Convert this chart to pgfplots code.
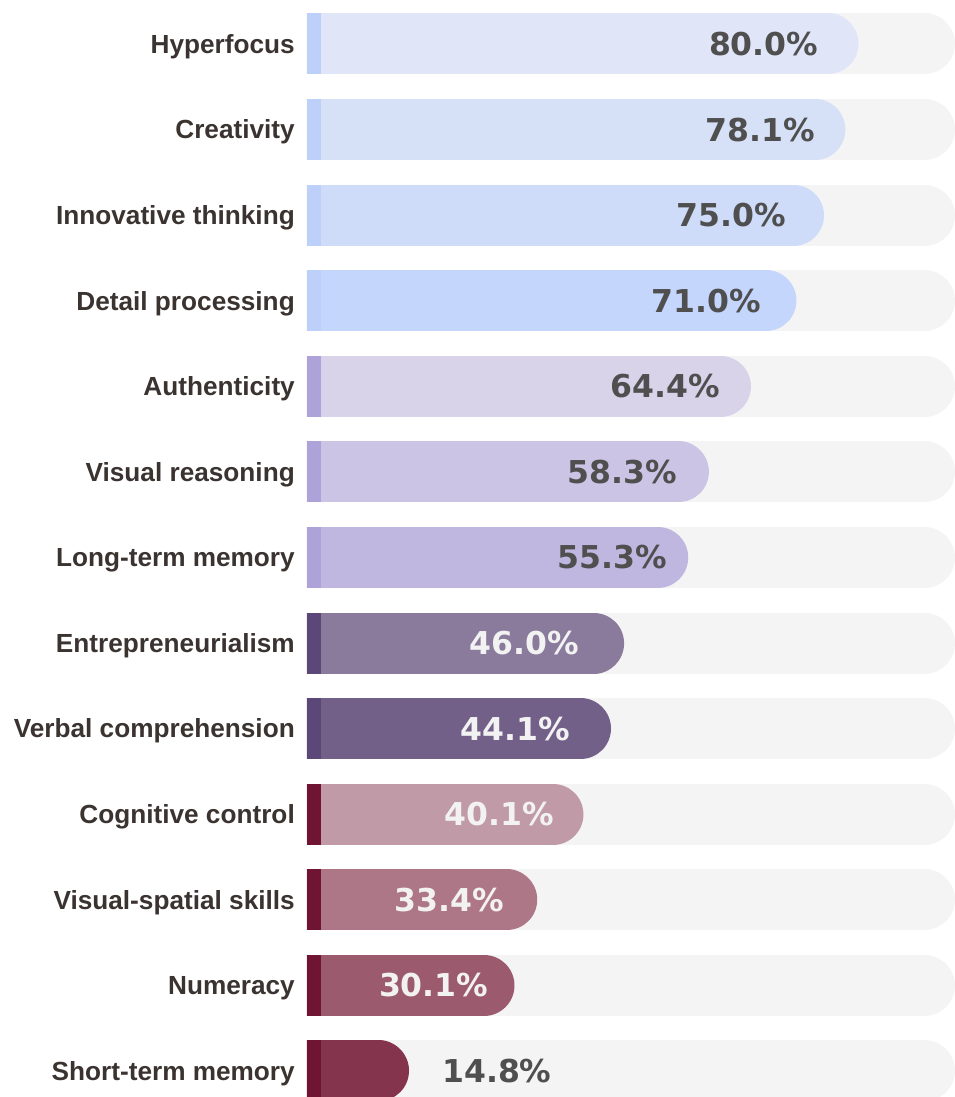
\documentclass[border=0pt]{standalone}
\usepackage{fontspec}
\setmainfont{Liberation Sans}
\newfontfamily\pctfont{DejaVu Sans}
\usepackage{pgfplots}
\pgfplotsset{compat=1.18}

\definecolor{trackgray}{HTML}{F4F4F4}
\definecolor{labelcol}{HTML}{3A3330}
\definecolor{pctdark}{HTML}{4F4F4F}
\definecolor{pctlight}{HTML}{F2F2F2}
\definecolor{f12}{HTML}{E0E6F8}
\definecolor{f11}{HTML}{D6E1F8}
\definecolor{f10}{HTML}{CEDCFA}
\definecolor{f9}{HTML}{C5D6FC}
\definecolor{f8}{HTML}{D9D3EA}
\definecolor{f7}{HTML}{CCC4E4}
\definecolor{f6}{HTML}{BFB7DF}
\definecolor{f5}{HTML}{8A7A9B}
\definecolor{f4}{HTML}{736088}
\definecolor{f3}{HTML}{C09AA6}
\definecolor{f2}{HTML}{AE7787}
\definecolor{f1}{HTML}{9C5A6E}
\definecolor{f0}{HTML}{85344E}
\definecolor{aBlue}{HTML}{BDD0FA}
\definecolor{aLav}{HTML}{ADA3D8}
\definecolor{aPur}{HTML}{5C4878}
\definecolor{aWine}{HTML}{701434}

% #1 = row, #2 = value, #3 = fill, #4 = accent, #5 = text colour, #6 = label, #7 = label gap
\newcommand{\barrow}[7]{%
  \addplot[draw=trackgray, line width=61pt, line cap=round, shorten >=30.5pt, mark=none]
    coordinates {(0,#1) (94,#1)};
  \addplot[draw=#3, line width=61pt, line cap=round, shorten >=30.5pt, mark=none]
    coordinates {(0,#1) (#2,#1)};
  \addplot[draw=#4, line width=61pt, line cap=butt, mark=none]
    coordinates {(0,#1) (2.03,#1)};
  \addplot[draw=none, mark=none, nodes near coords, point meta=explicit symbolic,
    every node near coord/.style={font=\pctfont\bfseries\fontsize{31.5}{34}\selectfont,
      text=#5, anchor=base east, inner sep=0pt, xshift=-#7pt, yshift=-11.5pt}]
    coordinates {(#2,#1) [#6]};
}

\begin{document}
\begin{tikzpicture}
\begin{axis}[
  scale only axis,
  width=648pt, height=1097pt,
  xmin=0, xmax=94,
  ymin=-0.304, ymax=12.514,
  axis line style={draw=none},
  major tick length=0pt,
  xtick=\empty,
  ytick={0,...,12},
  yticklabels={Short-term memory, Numeracy, Visual-spatial skills, Cognitive control,
    Verbal comprehension, Entrepreneurialism, Long-term memory, Visual reasoning,
    Authenticity, Detail processing, Innovative thinking, Creativity, Hyperfocus},
  yticklabel style={font=\bfseries\fontsize{26.2}{30}\selectfont, text=labelcol,
    anchor=base east, inner sep=0pt, xshift=-12pt, yshift=-9.3pt},
]
\barrow{12}{80.0}{f12}{aBlue}{pctdark}{80.0\%}{40}
\barrow{11}{78.1}{f11}{aBlue}{pctdark}{78.1\%}{30}
\barrow{10}{75.0}{f10}{aBlue}{pctdark}{75.0\%}{38}
\barrow{9}{71.0}{f9}{aBlue}{pctdark}{71.0\%}{35}
\barrow{8}{64.4}{f8}{aLav}{pctdark}{64.4\%}{31}
\barrow{7}{58.3}{f7}{aLav}{pctdark}{58.3\%}{32}
\barrow{6}{55.3}{f6}{aLav}{pctdark}{55.3\%}{21}
\barrow{5}{46.0}{f5}{aPur}{pctlight}{46.0\%}{45}
\barrow{4}{44.1}{f4}{aPur}{pctlight}{44.1\%}{41}
\barrow{3}{40.1}{f3}{aWine}{pctlight}{40.1\%}{29}
\barrow{2}{33.4}{f2}{aWine}{pctlight}{33.4\%}{33}
\barrow{1}{30.1}{f1}{aWine}{pctlight}{30.1\%}{26}
% short bar: label outside
\addplot[draw=trackgray, line width=61pt, line cap=round, shorten >=30.5pt, mark=none]
  coordinates {(0,0) (94,0)};
\addplot[draw=f0, line width=61pt, line cap=round, shorten >=30.5pt, mark=none]
  coordinates {(0,0) (14.8,0)};
\addplot[draw=aWine, line width=61pt, line cap=butt, mark=none]
  coordinates {(0,0) (2.03,0)};
\addplot[draw=none, mark=none, nodes near coords, point meta=explicit symbolic,
  every node near coord/.style={font=\pctfont\bfseries\fontsize{31.5}{34}\selectfont,
    text=pctdark, anchor=base west, inner sep=0pt, xshift=33pt, yshift=-11.5pt}]
  coordinates {(14.8,0) [14.8\%]};
\end{axis}
\pgfresetboundingbox
\path[use as bounding box] ([xshift=-307pt]current axis.south west) rectangle (current axis.north east);
\end{tikzpicture}
\end{document}
